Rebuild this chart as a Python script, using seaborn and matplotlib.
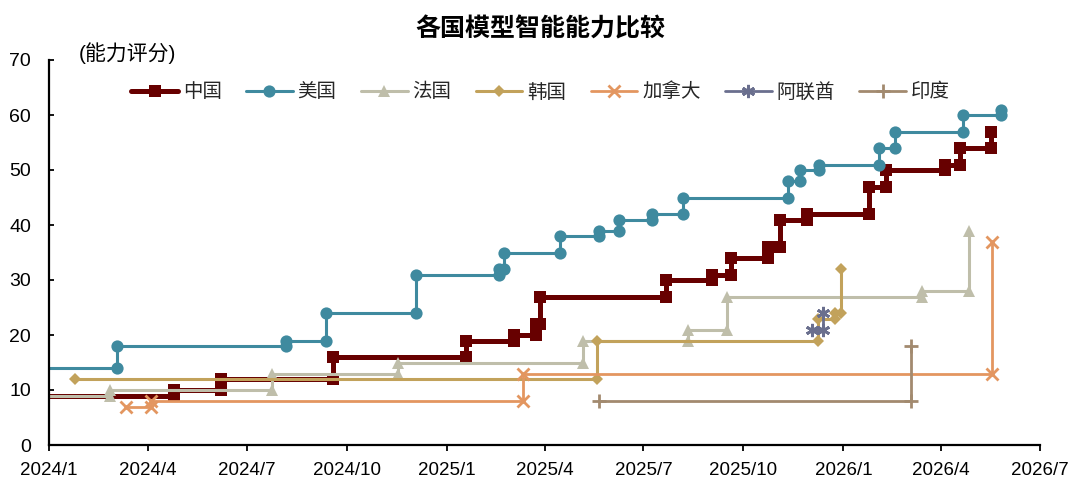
import numpy as np
import pandas as pd
import matplotlib
matplotlib.use("Agg")
import matplotlib.pyplot as plt
import matplotlib.dates as mdates
from matplotlib.ticker import FuncFormatter
import seaborn as sns

# ---------------- data (release date, capability score) ----------------
china_dates = ["2023-12-01", "2024-04-25", "2024-06-07", "2024-09-18", "2025-01-19",
               "2025-03-04", "2025-03-24", "2025-03-28", "2025-07-22", "2025-09-02",
               "2025-09-20", "2025-10-24", "2025-11-04", "2025-11-29", "2026-01-25",
               "2026-02-09", "2026-04-05", "2026-04-18", "2026-05-17"]
china_scores = [9, 10, 12, 16, 19, 20, 22, 27, 30, 31, 34, 36, 41, 42, 47, 50, 51, 54, 57]

us_dates = ["2023-12-01", "2024-03-04", "2024-08-06", "2024-09-12", "2024-12-04",
            "2025-02-18", "2025-02-23", "2025-04-15", "2025-05-21", "2025-06-09",
            "2025-07-09", "2025-08-06", "2025-11-11", "2025-11-22", "2025-12-10",
            "2026-02-03", "2026-02-18", "2026-04-21", "2026-05-26"]
us_scores = [14, 18, 19, 24, 31, 32, 35, 38, 39, 41, 42, 45, 48, 50, 51, 54, 57, 60, 61]

france_dates = ["2023-12-01", "2024-02-26", "2024-07-24", "2024-11-17", "2025-05-06",
                "2025-08-11", "2025-09-16", "2026-03-14", "2026-04-27"]
france_scores = [9, 10, 13, 15, 19, 21, 27, 28, 39]

korea_dates = ["2024-01-25", "2025-05-19", "2025-12-09", "2025-12-24", "2025-12-30"]
korea_scores = [12, 19, 23, 24, 32]

canada_dates = ["2024-03-12", "2024-04-04", "2025-03-12", "2026-05-18"]
canada_scores = [7, 8, 13, 37]

uae_dates = ["2025-12-03", "2025-12-13"]
uae_scores = [21, 24]

india_dates = ["2025-05-21", "2026-03-04"]
india_scores = [8, 18]

countries = ["中国", "美国", "法国", "韩国", "加拿大", "阿联酋", "印度"]
x_tick_months = ["2024-01-01", "2024-04-01", "2024-07-01", "2024-10-01", "2025-01-01",
                 "2025-04-01", "2025-07-01", "2025-10-01", "2026-01-01", "2026-04-01",
                 "2026-07-01"]
y_ticks = [0, 10, 20, 30, 40, 50, 60, 70]

series = {
    "中国": (china_dates, china_scores),
    "美国": (us_dates, us_scores),
    "法国": (france_dates, france_scores),
    "韩国": (korea_dates, korea_scores),
    "加拿大": (canada_dates, canada_scores),
    "阿联酋": (uae_dates, uae_scores),
    "印度": (india_dates, india_scores),
}

styles = {
    "中国": dict(color="#670000", marker="s", lw=3.6, ms=8.5, mew=0),
    "美国": dict(color="#3F8A9F", marker="o", lw=2.2, ms=8.8, mew=0),
    "法国": dict(color="#BFBEAA", marker="^", lw=2.2, ms=8.5, mew=0),
    "韩国": dict(color="#C2A25B", marker="D", lw=2.2, ms=6.0, mew=0),
    "加拿大": dict(color="#E39660", marker="x", lw=2.0, ms=8.0, mew=2.0),
    "阿联酋": dict(color="#6A6F8E", marker=(6, 2, 0), lw=2.0, ms=9.5, mew=2.0),
    "印度": dict(color="#A28A6F", marker="+", lw=2.0, ms=10.0, mew=2.0),
}


def step_vertices(dates, scores):
    """Build the vertices of a post-step line with a point before and after each jump."""
    d = pd.to_datetime(dates)
    xs, ys = [d[0]], [scores[0]]
    for i in range(1, len(scores)):
        xs += [d[i], d[i]]
        ys += [scores[i - 1], scores[i]]
    return pd.DataFrame({"date": xs, "score": ys})


# ---------------- plotting ----------------
sns.set_theme(style="white")
plt.rcParams["font.family"] = ["Liberation Sans", "Noto Sans CJK SC", "DejaVu Sans"]
plt.rcParams["axes.unicode_minus"] = False

fig = plt.figure(figsize=(10.8, 4.95), dpi=100)
ax = fig.add_axes([49 / 1080, 1 - 445 / 495, (1040 - 49) / 1080, (445 - 60) / 495])

for name in countries:
    dts, scs = series[name]
    df = step_vertices(dts, scs)
    st = styles[name]
    sns.lineplot(data=df, x="date", y="score", ax=ax, sort=False, estimator=None,
                 color=st["color"], linewidth=st["lw"], marker=st["marker"],
                 markersize=st["ms"], markeredgewidth=st["mew"],
                 markeredgecolor=st["color"], markerfacecolor=st["color"],
                 label=name)

ax.set_xlim(pd.Timestamp(x_tick_months[0]), pd.Timestamp(x_tick_months[-1]))
ax.set_ylim(y_ticks[0], y_ticks[-1])
ax.set_yticks(y_ticks)
ax.set_xticks(pd.to_datetime(x_tick_months))
ax.xaxis.set_major_formatter(FuncFormatter(
    lambda v, p: f"{mdates.num2date(v).year}/{mdates.num2date(v).month}"))
ax.set_xlabel("")
ax.set_ylabel("")

for s in ["top", "right"]:
    ax.spines[s].set_visible(False)
for s in ["left", "bottom"]:
    ax.spines[s].set_color("black")
    ax.spines[s].set_linewidth(1.6)
ax.tick_params(axis="both", which="major", width=1.3,
               color="black", labelcolor="black", left=True, bottom=True)
ax.tick_params(axis="x", direction="out", length=4.5, pad=8, labelsize=13.5)
ax.tick_params(axis="y", direction="in", length=3.8, pad=13, labelsize=14)

leg = ax.legend(loc="center", bbox_to_anchor=(0.496, 0.917), ncol=7, frameon=False,
                fontsize=14, handlelength=2.4, handletextpad=0.25, columnspacing=1.25,
                numpoints=1)

fig.text(0.5, 0.94, "各国模型智能能力比较", ha="center", va="center",
         fontsize=18, fontweight="bold", color="black")
fig.text(79 / 1080, 1 - 53 / 495, "(能力评分)", ha="left", va="center",
         fontsize=15, color="black")

fig.savefig("out.png", dpi=100)
